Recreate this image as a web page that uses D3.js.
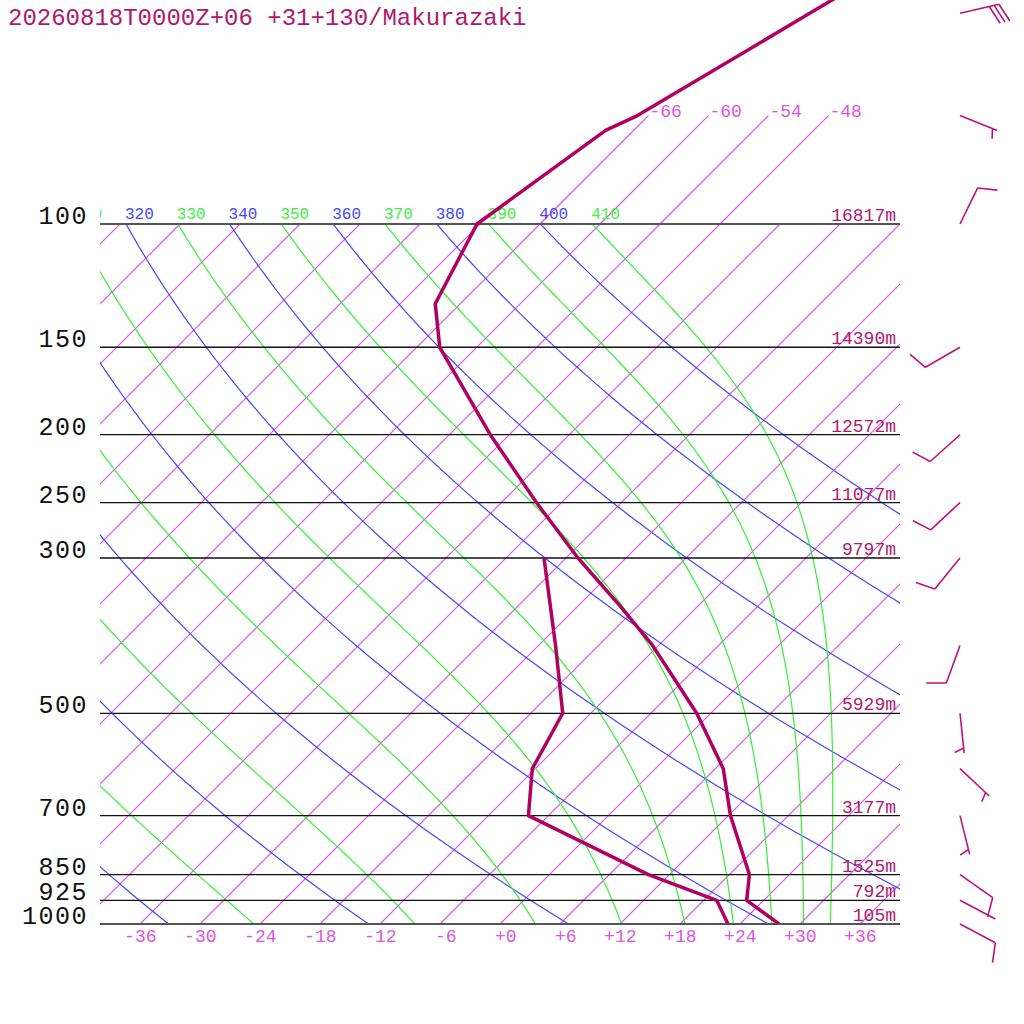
<!DOCTYPE html>
<html>
<head>
<meta charset="utf-8">
<script src="https://cdn.jsdelivr.net/npm/d3@7"></script>
<style>
  body { margin: 0; background: #fff; }
  svg { display: block; }
  text { font-family: 'Liberation Mono', 'DejaVu Sans Mono', monospace; }
</style>
</head>
<body>
<div id="chart"></div>
<script>
var title = '20260818T0000Z+06 +31+130/Makurazaki'

// pressure levels drawn as horizontal lines, with their heights
var levels = [1000, 925, 850, 700, 500, 300, 250, 200, 150, 100]
var levelHeights = ['105m', '792m', '1525m', '3177m', '5929m', '9797m', '11077m', '12572m', '14390m', '16817m']

// temperature profile (hPa, degC)
var tempLevels = [1000, 925, 850, 700, 600, 500, 400, 350, 300, 250, 200, 150, 130, 100, 73.5, 70, 50, 30]
var temps = [27.9, 22.3, 20.0, 12.2, 6.8, -1.4, -12.6, -20.0, -28.8, -38.5, -49.9, -63.7, -68.5, -72.3, -68.8, -67.1, -60.1, -49.5]

// dew point profile
var dewLevels = [1000, 925, 850, 700, 600, 500, 400, 300]
var dews = [22.8, 19.3, 9.9, -8.0, -12.3, -14.8, -22.3, -32.2]

// winds (direction deg, speed kt)
var windLevels = [50, 70, 100, 150, 200, 250, 300, 400, 500, 600, 700, 850, 925, 1000]
var windDirs = [77, 112, 26, 240, 228, 227, 219, 200, 174, 133, 166, 125, 118, 118]
var windSpeeds = [30, 5, 10, 10, 10, 10, 10, 10, 5, 5, 5, 10, 2, 10]

// grid lines
var isotherms = [-108, -102, -96, -90, -84, -78, -72, -66, -60, -54, -48, -42, -36, -30, -24, -18, -12, -6, 0, 6, 12, 18, 24, 30, 36]
var upperIsotherms = [-66, -60, -54, -48]
var tempTicks = [-36, -30, -24, -18, -12, -6, 0, 6, 12, 18, 24, 30, 36]
var dryThetas = [240, 260, 280, 300, 320, 340, 360, 380, 400]
var moistThetas = [250, 270, 290, 310, 330, 350, 370, 390, 410]

var width = 1024
var height = 1024
var left = 100
var right = 900
var isoColor = '#d44ee6'

var svg = d3
  .select('#chart')
  .append('svg')
  .attr('width', width)
  .attr('height', height)

var yScale = d3.scaleLog().domain([1000, 100]).range([924, 224])
var tScale = d3.scaleLinear().domain([-40, 40]).range([left, right])

// skewed x: isotherms lean 45 degrees
function skewX(t, p) {
  return tScale(t) + (yScale(1000) - yScale(p))
}

var line = d3
  .line()
  .x(d => skewX(d.t, d.p))
  .y(d => yScale(d.p))

var defs = svg.append('defs')
defs
  .append('clipPath')
  .attr('id', 'plot-clip')
  .append('rect')
  .attr('x', left)
  .attr('y', yScale(100))
  .attr('width', right - left)
  .attr('height', yScale(1000) - yScale(100))
defs
  .append('clipPath')
  .attr('id', 'label-clip')
  .append('rect')
  .attr('x', left)
  .attr('y', 190)
  .attr('width', right - left)
  .attr('height', 40)
defs
  .append('clipPath')
  .attr('id', 'profile-clip')
  .append('rect')
  .attr('x', left)
  .attr('y', 0)
  .attr('width', right - left)
  .attr('height', yScale(1000))

var grid = svg.append('g').attr('clip-path', 'url(#plot-clip)')

// isotherms
grid
  .selectAll('path.isotherm')
  .data(isotherms)
  .enter()
  .append('path')
  .attr('class', 'isotherm')
  .attr('d', t => line([{ p: 1000, t: t }, { p: 100, t: t }]))
  .style('stroke', isoColor)
  .style('stroke-width', 1.1)
  .style('fill', 'none')

svg
  .selectAll('path.upper-isotherm')
  .data(upperIsotherms)
  .enter()
  .append('path')
  .attr('class', 'upper-isotherm')
  .attr('d', t => line([{ p: 100, t: t }, { p: 70, t: t }]))
  .style('stroke', isoColor)
  .style('stroke-width', 1.1)
  .style('fill', 'none')

svg
  .selectAll('text.upper-iso-label')
  .data(upperIsotherms)
  .enter()
  .append('text')
  .attr('class', 'upper-iso-label')
  .attr('x', t => skewX(t, 70) + 1)
  .attr('y', yScale(70) + 1)
  .attr('font-size', 18)
  .attr('fill', '#dd55dd')
  .text(t => '-' + Math.abs(t))

// dry adiabats
var kappa = 0.2857
var logP = d3.range(0, 61).map(i => 1000 * Math.pow(0.1, i / 60))

function dryAdiabat(theta) {
  return logP.map(p => ({ p: p, t: theta * Math.pow(p / 1000, kappa) - 273.15 }))
}

// pseudo-adiabats, integrated down from 100 hPa
function dTdlnp(T, p) {
  var es = 6.112 * Math.exp((17.67 * (T - 273.15)) / (T - 29.65))
  var rs = (0.622 * es) / (p - es)
  var num = 287.04 * T + 2.501e6 * rs
  var den = 1005.7 + (2.501e6 * 2.501e6 * rs * 0.622) / (287.04 * T * T)
  return num / den
}

function moistAdiabat(theta) {
  var T = theta * Math.pow(0.1, kappa)
  var lp = Math.log(100)
  var n = 120
  var h = (Math.log(1000) - lp) / n
  var pts = [{ p: 100, t: T - 273.15 }]
  for (var i = 0; i < n; i++) {
    var k1 = dTdlnp(T, Math.exp(lp))
    var k2 = dTdlnp(T + (h * k1) / 2, Math.exp(lp + h / 2))
    var k3 = dTdlnp(T + (h * k2) / 2, Math.exp(lp + h / 2))
    var k4 = dTdlnp(T + h * k3, Math.exp(lp + h))
    T += (h * (k1 + 2 * k2 + 2 * k3 + k4)) / 6
    lp += h
    pts.push({ p: Math.exp(lp), t: T - 273.15 })
  }
  return pts
}

grid
  .selectAll('path.dry')
  .data(dryThetas)
  .enter()
  .append('path')
  .attr('class', 'dry')
  .attr('d', th => line(dryAdiabat(th)))
  .style('stroke', '#4646ff')
  .style('stroke-width', 1.2)
  .style('fill', 'none')

grid
  .selectAll('path.moist')
  .data(moistThetas)
  .enter()
  .append('path')
  .attr('class', 'moist')
  .attr('d', th => line(moistAdiabat(th)))
  .style('stroke', '#33f033')
  .style('stroke-width', 1.2)
  .style('fill', 'none')

// labels at 100 hPa, only where they reach into the plot
function thetaX(th) {
  return skewX(th * Math.pow(0.1, kappa) - 273.15, 100) - 1
}
var adiabatLabels = svg.append('g').attr('clip-path', 'url(#label-clip)')
var allThetas = dryThetas
  .map(th => ({ th: th, c: '#4646ff' }))
  .concat(moistThetas.map(th => ({ th: th, c: '#44ee44' })))
  .filter(d => thetaX(d.th) + 27 > left)
adiabatLabels
  .selectAll('text')
  .data(allThetas)
  .enter()
  .append('text')
  .attr('x', d => thetaX(d.th))
  .attr('y', yScale(100) - 5)
  .attr('font-size', 16)
  .attr('fill', d => d.c)
  .text(d => d.th)

// pressure lines
svg
  .selectAll('line.plevel')
  .data(levels)
  .enter()
  .append('line')
  .attr('class', 'plevel')
  .attr('x1', left)
  .attr('x2', right)
  .attr('y1', p => yScale(p))
  .attr('y2', p => yScale(p))
  .attr('stroke', p => (p === 1000 || p === 100 ? '#555' : '#111'))
  .attr('stroke-width', p => (p === 1000 || p === 100 ? 2 : 1.3))

svg
  .selectAll('text.plabel')
  .data(levels)
  .enter()
  .append('text')
  .attr('class', 'plabel')
  .attr('x', 88)
  .attr('y', p => yScale(p))
  .attr('text-anchor', 'end')
  .attr('font-size', 25)
  .attr('letter-spacing', 1.5)
  .attr('fill', '#111')
  .text(p => p)

svg
  .selectAll('text.hlabel')
  .data(levels)
  .enter()
  .append('text')
  .attr('class', 'hlabel')
  .attr('x', 896)
  .attr('y', p => yScale(p) - 3)
  .attr('text-anchor', 'end')
  .attr('font-size', 18)
  .attr('fill', '#b0186a')
  .text((p, i) => levelHeights[i])

// temperature ticks under the 1000 hPa line
svg
  .selectAll('text.tlabel')
  .data(tempTicks)
  .enter()
  .append('text')
  .attr('class', 'tlabel')
  .attr('x', t => skewX(t, 1000) + 16.5)
  .attr('y', 942)
  .attr('text-anchor', 'end')
  .attr('font-size', 18)
  .attr('fill', '#dd55dd')
  .text(t => (t < 0 ? '-' : '+') + Math.abs(t))

// profiles
var profiles = svg.append('g').attr('clip-path', 'url(#profile-clip)')
profiles
  .append('path')
  .datum(tempLevels.map((p, i) => ({ p: p, t: temps[i] })))
  .attr('d', line)
  .attr('stroke', '#b00060')
  .attr('stroke-width', 3.5)
  .attr('stroke-linejoin', 'round')
  .attr('fill', 'none')
profiles
  .append('path')
  .datum(dewLevels.map((p, i) => ({ p: p, t: dews[i] })))
  .attr('d', line)
  .attr('stroke', '#b00060')
  .attr('stroke-width', 3.5)
  .attr('stroke-linejoin', 'round')
  .attr('fill', 'none')

// wind barbs
function barbPath(dir, spd) {
  var a = (dir * Math.PI) / 180
  var ux = Math.sin(a)
  var uy = -Math.cos(a)
  var len = 40
  var fa = Math.atan2(uy, ux) + (70 * Math.PI) / 180
  var fx = Math.cos(fa)
  var fy = Math.sin(fa)
  var d = 'M0,0L' + ux * len + ',' + uy * len
  var full = Math.floor(spd / 10)
  var half = Math.round((spd - full * 10) / 5)
  var pos = len
  for (var i = 0; i < full; i++) {
    d += 'M' + ux * pos + ',' + uy * pos + 'l' + fx * 20 + ',' + fy * 20
    pos -= 5
  }
  if (half) {
    if (full === 0) pos = len - 5
    d += 'M' + ux * pos + ',' + uy * pos + 'l' + fx * 10 + ',' + fy * 10
  }
  return d
}

svg
  .selectAll('path.barb')
  .data(windLevels)
  .enter()
  .append('path')
  .attr('class', 'barb')
  .attr('transform', p => 'translate(960,' + yScale(p) + ')')
  .attr('d', (p, i) => barbPath(windDirs[i], windSpeeds[i]))
  .attr('stroke', '#c0107a')
  .attr('stroke-width', 1.6)
  .attr('fill', 'none')

svg
  .append('text')
  .attr('x', 8)
  .attr('y', 25)
  .attr('font-size', 24)
  .attr('fill', '#b0186a')
  .text(title)
</script>
</body>
</html>
